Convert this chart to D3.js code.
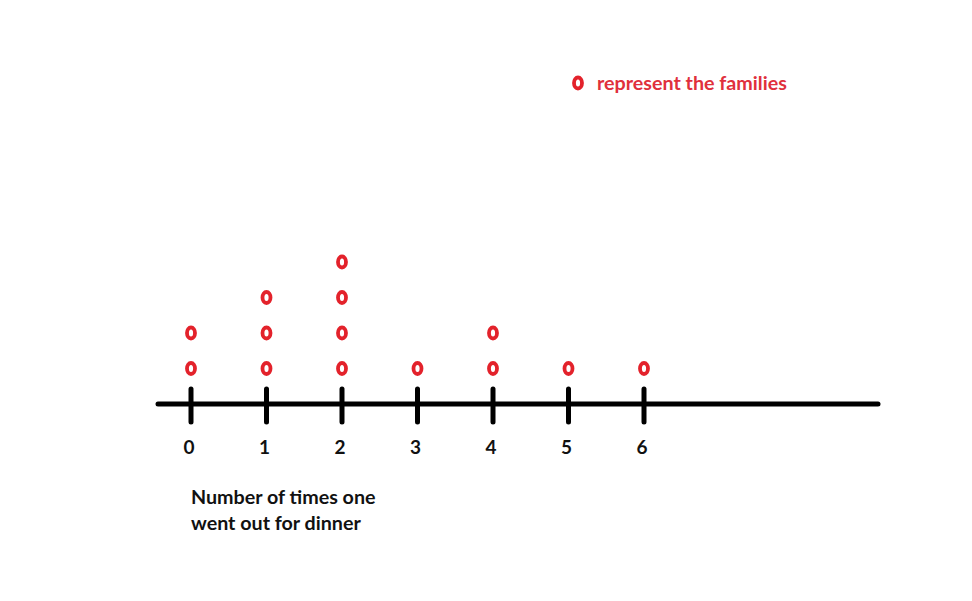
<!DOCTYPE html>
<html><head><meta charset="utf-8">
<script src="https://cdn.jsdelivr.net/npm/d3@7"></script>
<style>body{margin:0;background:#fff}svg{display:block}</style>
</head><body>
<script>
const categories = [0, 1, 2, 3, 4, 5, 6];
const counts = [2, 3, 4, 1, 2, 1, 1];
const tickLabels = ["0", "1", "2", "3", "4", "5", "6"];
const axisTitle = ["Number of times one", "went out for dinner"];
const legendText = "represent the families";

const W = 972, H = 601;
const red = "#e3222b";
const svg = d3.select("body").append("svg").attr("width", W).attr("height", H);

const x = d3.scaleLinear().domain([0, 6]).range([191, 644]);
const y = d3.scaleLinear().domain([0, 4]).range([404, 262]);

// axis line
svg.append("line").attr("x1", 158).attr("x2", 878).attr("y1", 404).attr("y2", 404)
  .attr("stroke", "#000").attr("stroke-width", 5).attr("stroke-linecap", "round");

// ticks
svg.selectAll(".tick").data(categories).join("line")
  .attr("x1", d => x(d)).attr("x2", d => x(d)).attr("y1", 389).attr("y2", 422)
  .attr("stroke", "#000").attr("stroke-width", 5).attr("stroke-linecap", "round");

svg.selectAll(".tl").data(categories).join("text")
  .attr("x", d => x(d) - 2).attr("y", 454)
  .attr("text-anchor", "middle")
  .attr("font-family", "Lato, 'Open Sans', sans-serif").attr("font-weight", "bold").attr("font-size", 19)
  .attr("fill", "#111").text((d, i) => tickLabels[i]);

// dots
const dots = [];
categories.forEach((c, i) => { for (let k = 1; k <= counts[i]; k++) dots.push({ c, k }); });
svg.selectAll(".dot").data(dots).join("ellipse")
  .attr("cx", d => x(d.c)).attr("cy", d => y(d.k))
  .attr("rx", 4).attr("ry", 5.5)
  .attr("fill", "#fff").attr("stroke", red).attr("stroke-width", 3.8);

// axis title
svg.append("text").attr("x", 191).attr("y", 504)
  .attr("font-family", "Lato, 'Open Sans', sans-serif").attr("font-weight", "bold").attr("font-size", 19.7)
  .attr("fill", "#111")
  .selectAll("tspan").data(axisTitle).join("tspan")
  .attr("x", 191).attr("dy", (d, i) => i === 0 ? 0 : 26).text(d => d);

// legend
svg.append("ellipse").attr("cx", 578).attr("cy", 83).attr("rx", 4).attr("ry", 5.5)
  .attr("fill", "#fff").attr("stroke", red).attr("stroke-width", 3.8);
svg.append("text").attr("x", 597).attr("y", 90)
  .attr("font-family", "Lato, 'Open Sans', sans-serif").attr("font-weight", "bold").attr("font-size", 19.7)
  .attr("fill", "#e0303c").text(legendText);
</script>
</body></html>
